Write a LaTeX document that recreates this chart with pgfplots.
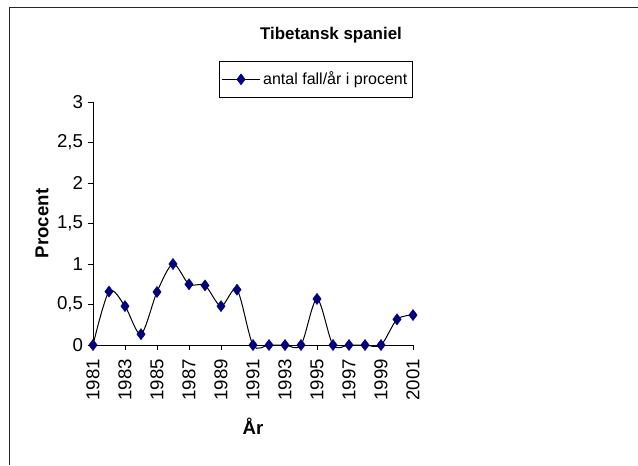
\documentclass[border=0pt]{standalone}
\usepackage{pgfplots}
\pgfplotsset{compat=1.18}
\usepackage{fontspec}
\setmainfont{Liberation Sans}
\definecolor{navyblue}{RGB}{0,0,128}
\begin{document}
\begin{tikzpicture}
\path[use as bounding box] (0,0) rectangle (478.5pt,-348.75pt);
\draw[line width=0.8pt, black!85] (7.2pt,-348.75pt) -- (7.2pt,-5.5pt) -- (478.5pt,-5.5pt);
\node[font=\fontsize{12.7}{14}\selectfont\bfseries] at (248.25pt,-26.5pt) {Tibetansk spaniel};
\begin{axis}[
  at={(69.75pt,-258.75pt)}, anchor=south west,
  scale only axis, width=240pt, height=182.25pt,
  xmin=1981, xmax=2001, ymin=0, ymax=3,
  axis lines*=left,
  axis line style={black, line width=0.6pt},
  xtick={1981,1983,...,2001},
  xticklabels={1981,1983,1985,1987,1989,1991,1993,1995,1997,1999,2001},
  ytick={0,0.5,1,1.5,2,2.5,3},
  yticklabels={0,{0,5},1,{1,5},2,{2,5},3},
  tick align=outside, tick pos=left,
  major tick length=4pt,
  tick style={black, line width=0.6pt},
  /pgf/number format/assume math mode=true,
  ticklabel style={font=\fontsize{14}{16}\selectfont},
  xticklabel style={yshift=-3pt, rotate=90, anchor=east},
  xlabel={\textbf{År}}, ylabel={\textbf{Procent}},
  label style={font=\fontsize{14}{16}\selectfont},
  xlabel style={at={(axis description cs:0.5,0)}, anchor=center, yshift=-60.75pt},
  ylabel style={at={(axis description cs:0,0.5)}, anchor=center, yshift=38.25pt},
  clip=false,
  legend style={at={(1,1.017)}, anchor=south east, draw=black, line width=0.6pt,
    font=\fontsize{12}{14}\selectfont, inner ysep=6pt, inner xsep=2pt},
  legend image code/.code={\draw[mark repeat=2,mark phase=2,#1] plot coordinates {(0cm,0cm) (0.5cm,0cm) (1cm,0cm)};},
]
\addplot[black, line width=0.75pt, smooth, tension=0.5, mark=diamond*, mark size=4.2pt,
  mark options={fill=navyblue, draw=navyblue, line width=0.3pt}] coordinates {
(1981,0) (1982,0.66) (1983,0.48) (1984,0.134) (1985,0.655) (1986,1.0) (1987,0.75)
(1988,0.736) (1989,0.48) (1990,0.683) (1991,0) (1992,0) (1993,0) (1994,0)
(1995,0.569) (1996,0) (1997,0) (1998,0) (1999,0) (2000,0.317) (2001,0.37)
};
\addlegendentry{antal fall/år i procent}
\end{axis}
\end{tikzpicture}
\end{document}
